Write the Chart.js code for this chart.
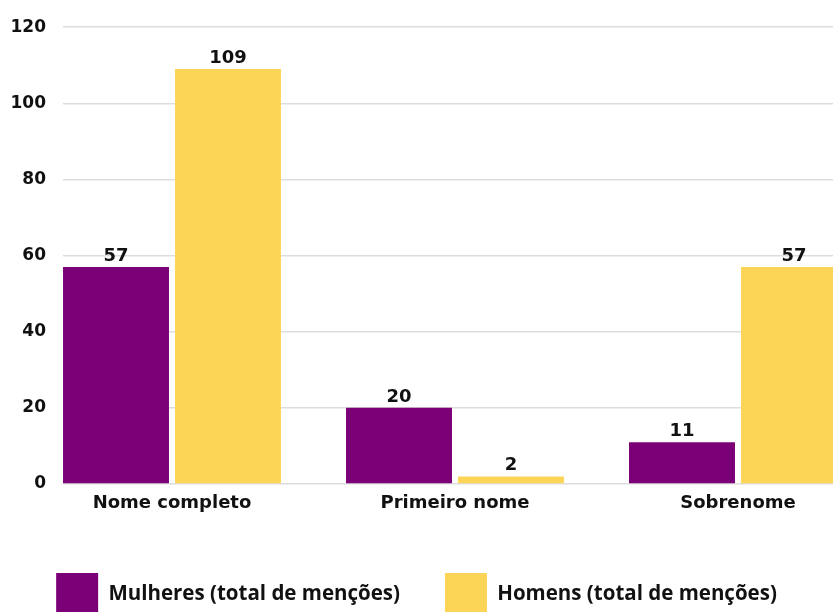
<!DOCTYPE html>
<html>
<head>
<meta charset="utf-8">
<style>
  html, body { margin: 0; padding: 0; overflow: hidden; background: #ffffff; }
  canvas { display: block; }
</style>
<script src="https://cdn.jsdelivr.net/npm/chart.js@4.4.1/dist/chart.umd.min.js"></script>
</head>
<body>
<canvas id="c" width="833" height="625"></canvas>
<script>
// ---- data ----
const categories = ["Nome completo", "Primeiro nome", "Sobrenome"];
const seriesNames = ["Mulheres (total de menções)", "Homens (total de menções)"];
const mulheres = [57, 20, 11];
const homens = [109, 2, 57];
const yTicks = [0, 20, 40, 60, 80, 100, 120];

// ---- styles ----
const PURPLE = "#7b0077";
const YELLOW = "#fdd556";
const TEXT = "#111111";

const valueLabels = {
  id: "valueLabels",
  afterDatasetsDraw(chart) {
    const ctx = chart.ctx;
    ctx.save();
    ctx.font = 'bold 18px "DejaVu Sans"';
    ctx.fillStyle = TEXT;
    ctx.textAlign = "center";
    ctx.textBaseline = "alphabetic";
    chart.data.datasets.forEach((ds, i) => {
      chart.getDatasetMeta(i).data.forEach((el, j) => {
        ctx.fillText(String(ds.data[j]), el.x, el.y - 6);
      });
    });
    ctx.restore();
  }
};

// category band runs wider than the visible plot, first bar flush with the grid start
const bandShift = {
  id: "bandShift",
  afterLayout(chart) {
    const x = chart.scales.x;
    const a = chart.chartArea;
    x.left = a.left - 32.5;
    x.right = x.left + 849;
    x.configure();
  }
};

new Chart(document.getElementById("c"), {
  type: "bar",
  data: {
    labels: categories,
    datasets: [
      { label: seriesNames[0], data: mulheres, backgroundColor: PURPLE, borderWidth: 0,
        categoryPercentage: 0.7915, barPercentage: 0.946 },
      { label: seriesNames[1], data: homens, backgroundColor: YELLOW, borderWidth: 0,
        categoryPercentage: 0.7915, barPercentage: 0.946 }
    ]
  },
  options: {
    responsive: false,
    animation: false,
    layout: { padding: { left: 0, right: 0, top: 24, bottom: 0 } },
    plugins: {
      legend: {
        position: "bottom",
        labels: {
          boxWidth: 42, boxHeight: 42, padding: 45, color: TEXT,
          font: { family: "Open Sans", size: 20.5, weight: "700" }
        }
      },
      tooltip: { enabled: false }
    },
    scales: {
      x: {
        grid: { display: false, drawTicks: false },
        border: { display: false },
        ticks: { padding: 9, color: TEXT, font: { family: "DejaVu Sans", size: 18, weight: "bold" } },
        afterFit(s) { s.height = 44; }
      },
      y: {
        min: 0, max: 120,
        afterBuildTicks(s) { s.ticks = yTicks.map(v => ({ value: v })); },
        grid: { color: "#dddddd", drawTicks: false, lineWidth: 1.5 },
        border: { display: false },
        ticks: { padding: 17, color: TEXT, font: { family: "DejaVu Sans", size: 17, weight: "bold" } },
        afterFit(s) { s.width = 63; }
      }
    }
  },
  plugins: [valueLabels, bandShift]
});
</script>
</body>
</html>
